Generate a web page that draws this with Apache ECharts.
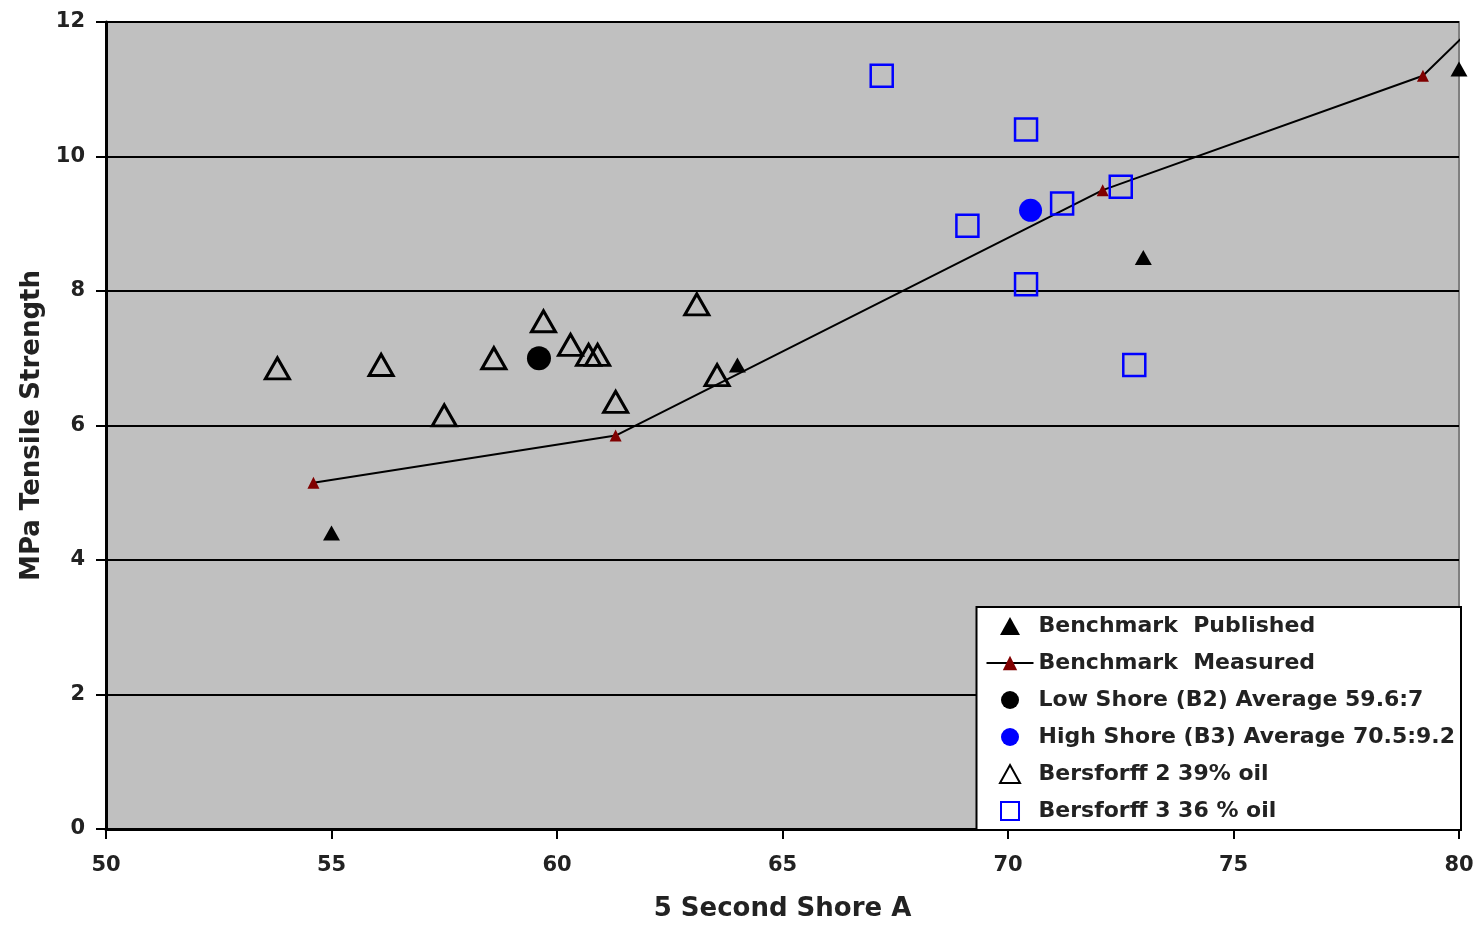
<!DOCTYPE html>
<html>
<head>
<meta charset="utf-8">
<script src="https://cdn.jsdelivr.net/npm/echarts@6/dist/echarts.min.js"></script>
<style>html,body{margin:0;padding:0;background:#fff;}#c{width:1479px;height:927px;}</style>
</head>
<body>
<div id="c"></div>
<script>
const xTicks = [50, 55, 60, 65, 70, 75, 80];
const yTicks = [0, 2, 4, 6, 8, 10, 12];
const seriesNames = [
  'Benchmark  Published',
  'Benchmark  Measured',
  'Low Shore (B2) Average 59.6:7',
  'High Shore (B3) Average 70.5:9.2',
  'Bersforff 2 39% oil',
  'Bersforff 3 36 % oil'
];
const benchmarkPublished = [[55, 4.4], [64, 6.9], [73, 8.5], [80, 11.3]];
const benchmarkMeasured = [[54.6, 5.15], [61.3, 5.85], [72.1, 9.5], [79.2, 11.2], [80.3, 11.92]];
const lowShoreAvg = [[59.6, 7.0]];
const highShoreAvg = [[70.5, 9.2]];
const bersdorff2 = [[53.8, 6.85], [56.1, 6.9], [57.5, 6.15], [58.6, 7.0], [59.7, 7.55], [60.3, 7.2],
  [60.7, 7.05], [60.9, 7.05], [61.3, 6.35], [63.1, 7.8], [63.55, 6.75]];
const bersdorff3 = [[67.2, 11.2], [70.4, 10.4], [69.1, 8.97], [71.2, 9.3], [72.5, 9.55], [70.4, 8.1], [72.8, 6.9]];

const chart = echarts.init(document.getElementById('c'));
const font = '"DejaVu Sans", "Liberation Sans", Arial, sans-serif';
const triPath = 'path://M10,0L20,18L0,18Z';
const circPath = 'path://M10,0A10,10,0,1,1,9.99,0Z';
const rectPath = 'path://M0,0L20,0L20,20L0,20Z';
const measuredData = benchmarkMeasured.map((p, i) =>
  i === benchmarkMeasured.length - 1 ? { value: p, symbol: 'none' } : { value: p });

chart.setOption({
  animation: false,
  backgroundColor: '#fff',
  grid: { left: 106, right: 20, top: 22, bottom: 97, show: true, backgroundColor: '#C0C0C0', borderColor: '#808080', borderWidth: 2 },
  xAxis: {
    type: 'value', min: xTicks[0], max: xTicks[xTicks.length - 1], interval: 5,
    name: '5 Second Shore A', nameLocation: 'middle', nameGap: 67,
    nameTextStyle: { fontFamily: font, fontWeight: 'bold', fontSize: 26, color: '#222' },
    axisLine: { show: true, onZero: false, lineStyle: { color: '#000', width: 3 } },
    axisTick: { show: true, length: 10, lineStyle: { color: '#000', width: 2 } },
    axisLabel: { fontFamily: font, fontWeight: 'bold', fontSize: 21, color: '#222', margin: 26 },
    splitLine: { show: false }
  },
  yAxis: {
    type: 'value', min: yTicks[0], max: yTicks[yTicks.length - 1], interval: 2,
    name: 'MPa Tensile Strength', nameLocation: 'middle', nameGap: 61, nameRotate: 90,
    nameTextStyle: { fontFamily: font, fontWeight: 'bold', fontSize: 26, color: '#222' },
    axisLine: { show: true, onZero: false, lineStyle: { color: '#000', width: 3 } },
    axisTick: { show: true, length: 10, lineStyle: { color: '#000', width: 2 } },
    axisLabel: { fontFamily: font, fontWeight: 'bold', fontSize: 21, color: '#222', margin: 21 },
    splitLine: { show: true, lineStyle: { color: '#000', width: 2 } }
  },
  legend: {
    orient: 'vertical', right: 18, bottom: 97,
    backgroundColor: '#fff', borderColor: '#000', borderWidth: 2,
    padding: [8, 6, 8, 9],
    itemWidth: 47, itemHeight: 18, itemGap: 15,
    symbolKeepAspect: true,
    textStyle: { fontFamily: font, fontWeight: 'bold', fontSize: 22, color: '#222' },
    data: [
      { name: seriesNames[0], icon: triPath },
      { name: seriesNames[1] },
      { name: seriesNames[2], icon: circPath },
      { name: seriesNames[3], icon: circPath },
      { name: seriesNames[4], icon: triPath },
      { name: seriesNames[5], icon: rectPath }
    ],
    selectedMode: false
  },
  series: [
    { name: seriesNames[0], type: 'scatter', data: benchmarkPublished, symbol: 'triangle', symbolSize: [17, 15],
      itemStyle: { color: '#000', opacity: 1 }, emphasis: { disabled: true }, z: 5 },
    { name: seriesNames[1], type: 'line', data: measuredData, symbol: 'triangle', symbolSize: 12, clip: false,
      lineStyle: { color: '#000', width: 2 }, itemStyle: { color: '#800000', opacity: 1 }, emphasis: { disabled: true }, z: 4 },
    { name: seriesNames[2], type: 'scatter', data: lowShoreAvg, symbol: 'circle', symbolSize: 24,
      itemStyle: { color: '#000', opacity: 1 }, emphasis: { disabled: true }, z: 5 },
    { name: seriesNames[3], type: 'scatter', data: highShoreAvg, symbol: 'circle', symbolSize: 23,
      itemStyle: { color: '#0000FF', opacity: 1 }, emphasis: { disabled: true }, z: 5 },
    { name: seriesNames[4], type: 'scatter', data: bersdorff2, symbol: 'triangle', symbolSize: [24, 21],
      itemStyle: { color: 'rgba(0,0,0,0)', borderColor: '#000', borderWidth: 3, opacity: 1 }, emphasis: { disabled: true }, z: 5 },
    { name: seriesNames[5], type: 'scatter', data: bersdorff3, symbol: 'rect', symbolSize: 22,
      itemStyle: { color: 'rgba(0,0,0,0)', borderColor: '#0000FF', borderWidth: 2.5, opacity: 1 }, emphasis: { disabled: true }, z: 5 }
  ]
});
</script>
</body>
</html>
